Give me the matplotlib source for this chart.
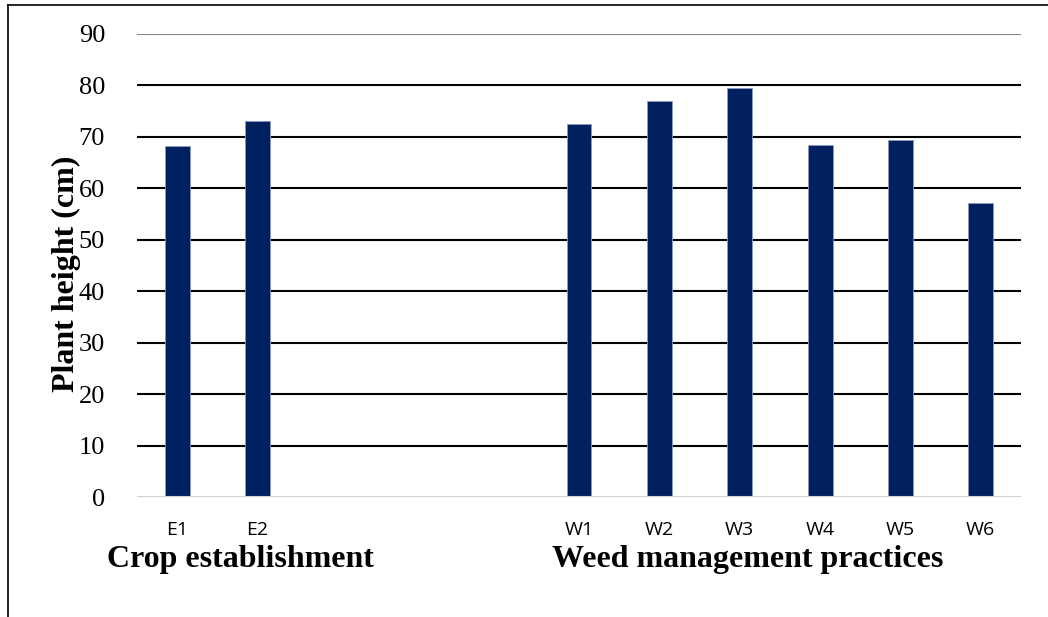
import numpy as np
import matplotlib
matplotlib.use("Agg")
import matplotlib.pyplot as plt
from matplotlib.lines import Line2D

categories = ["E1", "E2", "", "", "", "W1", "W2", "W3", "W4", "W5", "W6"]
heights = [68.3, 73.1, np.nan, np.nan, np.nan, 72.6, 77.0, 79.5, 68.5, 69.4, 57.2]
yticks = [0, 10, 20, 30, 40, 50, 60, 70, 80, 90]
group_labels = ["Crop establishment", "Weed management practices"]

W, H = 1048, 617
fig = plt.figure(figsize=(W / 100, H / 100), dpi=100)
ax = fig.add_axes([137 / W, 1 - 497 / H, (1021 - 137) / W, (497 - 34) / H])

x = np.arange(len(categories))
ax.bar(x, heights, width=0.31, color="#002060", edgecolor="#8a9cc0", linewidth=0.6, zorder=3)

ax.set_xlim(-0.5, len(categories) - 0.5)
ax.set_ylim(0, 90)
ax.set_yticks(yticks)
ax.set_yticklabels([str(t) for t in yticks], family="Liberation Serif", fontsize=19)
ax.set_xticks(x)
ax.set_xticklabels(categories, family="Open Sans", fontsize=14)
ax.tick_params(axis="both", length=0)
ax.tick_params(axis="y", pad=23)
ax.tick_params(axis="x", pad=17)
for s in ax.spines.values():
    s.set_visible(False)

for t in yticks:
    if t == 0:
        c = "#d0d0d0"
    elif t == 90:
        c = "#888888"
    else:
        c = "black"
    ax.axhline(t, color=c, linewidth=1.5, zorder=1 if t else 4)

ax.set_ylabel("Plant height (cm)", family="Liberation Serif", fontsize=23,
              fontweight="bold")
ax.yaxis.set_label_coords(-0.063, 0.482)

fig.text(240 / W, 1 - 559 / H, group_labels[0], family="Liberation Serif",
         fontsize=23, fontweight="bold", ha="center", va="center")
fig.text(748 / W, 1 - 559 / H, group_labels[1], family="Liberation Serif",
         fontsize=23, fontweight="bold", ha="center", va="center")

# figure border (left and top)
yb = 1 - 5 / H
xb = 8 / W
fig.add_artist(Line2D([xb, xb], [0, yb], transform=fig.transFigure, color="black", linewidth=1.2))
fig.add_artist(Line2D([xb, 1], [yb, yb], transform=fig.transFigure, color="black", linewidth=1.2))

fig.savefig("out.png", dpi=100)
